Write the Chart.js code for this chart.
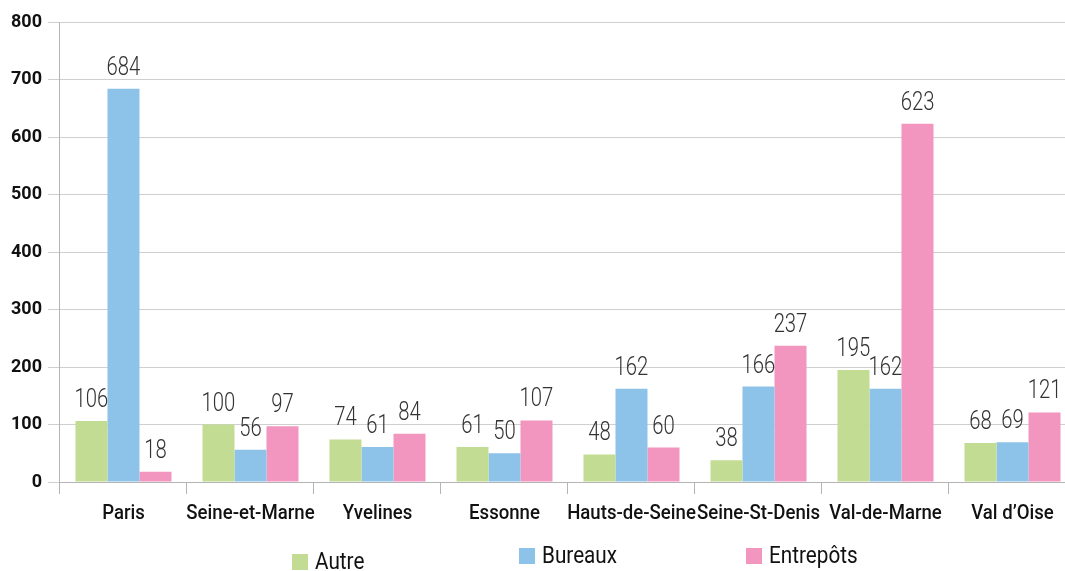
<!DOCTYPE html>
<html>
<head>
<meta charset="utf-8">
<script src="https://cdn.jsdelivr.net/npm/chart.js@4/dist/chart.umd.min.js"></script>
<style>
  html, body { margin: 0; padding: 0; background: #fff; }
  #wrap { width: 1065px; height: 571px; overflow: hidden; position: relative; }
  #wrap canvas { position: absolute; left: 0; top: 0; }
</style>
</head>
<body>
<div id="wrap"><canvas id="myChart" width="1080" height="571"></canvas></div>
<script>
// departements
const departements = ['Paris', 'Seine-et-Marne', 'Yvelines', 'Essonne', 'Hauts-de-Seine', 'Seine-St-Denis', 'Val-de-Marne', 'Val d\u2019Oise'];

const autre = [106, 100, 74, 61, 48, 38, 195, 68];
const bureaux = [684, 56, 61, 50, 162, 166, 162, 69];
const entrepots = [18, 97, 84, 107, 60, 237, 623, 121];

const seriesNames = ['Autre', 'Bureaux', 'Entrepôts'];
const seriesColors = ['#c3dc94', '#8ec3e9', '#f296bf'];

const yTicks = [0, 100, 200, 300, 400, 500, 600, 700, 800];

// the original uses a condensed face, so text is squeezed horizontally
function squeezedText(ctx, text, x, y, squeeze) {
	ctx.save();
	ctx.translate(x, y);
	ctx.scale(squeeze, 1);
	ctx.fillText(text, 0, 0);
	ctx.restore();
}

// writes the value above every bar
const valueLabels = {
	id: 'valueLabels',
	afterDatasetsDraw(chart) {
		let ctx = chart.ctx;
		ctx.save();
		ctx.font = '300 26px Roboto';
		ctx.fillStyle = '#333';
		ctx.textAlign = 'center';
		ctx.textBaseline = 'alphabetic';
		chart.data.datasets.forEach((ds, i) => {
			chart.getDatasetMeta(i).data.forEach((bar, j) => {
				squeezedText(ctx, String(ds.data[j]), bar.x, bar.y - 14, 0.78);
			});
		});
		ctx.restore();
	}
};

// category names under the axis
const categoryLabels = {
	id: 'categoryLabels',
	afterDraw(chart) {
		let ctx = chart.ctx;
		let xScale = chart.scales.x;
		ctx.save();
		ctx.font = '500 20px Roboto';
		ctx.fillStyle = '#111';
		ctx.textAlign = 'center';
		ctx.textBaseline = 'middle';
		chart.data.labels.forEach((label, i) => {
			squeezedText(ctx, label, xScale.getPixelForValue(i), chart.chartArea.bottom + 32, 0.93);
		});
		ctx.restore();
	}
};

// legend spread out under the chart like in the original (Autre sits a bit lower)
const legendX = [292, 519, 746];
const legendY = [562, 556, 556];

const spreadLegend = {
	id: 'spreadLegend',
	afterDraw(chart) {
		let ctx = chart.ctx;
		ctx.save();
		ctx.font = '23px Roboto';
		ctx.textBaseline = 'middle';
		ctx.textAlign = 'left';
		chart.data.datasets.forEach((ds, i) => {
			let x = legendX[i];
			let y = legendY[i];
			ctx.fillStyle = ds.backgroundColor;
			ctx.fillRect(x, y - 8, 16, 16);
			ctx.fillStyle = '#111';
			squeezedText(ctx, ds.label, x + 23, y + 1, 0.9);
		});
		ctx.restore();
	}
};

const seriesData = [autre, bureaux, entrepots];

new Chart(document.getElementById('myChart'), {
	type: 'bar',
	data: {
		labels: departements,
		datasets: seriesData.map((values, i) => ({
			label: seriesNames[i],
			data: values,
			backgroundColor: seriesColors[i],
			borderWidth: 0,
			barPercentage: 1,
			categoryPercentage: 0.756
		}))
	},
	options: {
		responsive: false,
		animation: false,
		layout: { padding: { top: 22, left: 5, right: 4, bottom: 45 } },
		plugins: {
			legend: { display: false },
			tooltip: { enabled: false }
		},
		scales: {
			x: {
				grid: { offset: true, drawOnChartArea: false, drawTicks: true, tickLength: 12, color: '#b4b4b4' },
				border: { color: '#b4b4b4' },
				ticks: { display: false },
				afterFit(scale) { scale.height = 44; }
			},
			y: {
				min: 0,
				max: 800,
				afterBuildTicks(axis) { axis.ticks = yTicks.map(v => ({ value: v })); },
				grid: { color: '#cfcfcf', tickLength: 12 },
				border: { color: '#b4b4b4' },
				ticks: { color: '#111', padding: 6, font: { family: 'Roboto', size: 18, weight: 'bold' } }
			}
		}
	},
	plugins: [valueLabels, categoryLabels, spreadLegend]
});
</script>
</body>
</html>
